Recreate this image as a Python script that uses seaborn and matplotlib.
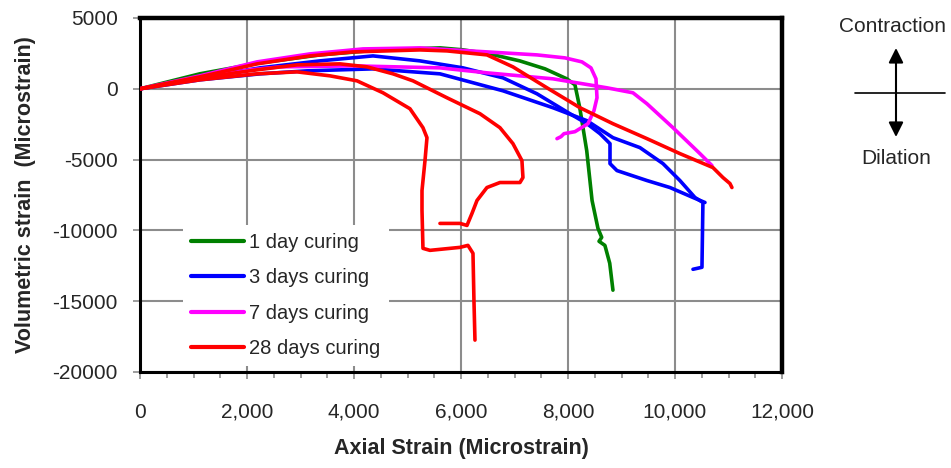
import matplotlib
matplotlib.use("Agg")
import matplotlib.pyplot as plt
from matplotlib.lines import Line2D
from matplotlib.ticker import MultipleLocator, FuncFormatter
import pandas as pd
import seaborn as sns

# ---- series -------------------------------------------------------------
series_labels = ["1 day curing", "3 days curing", "7 days curing", "28 days curing"]
series_colors = ["#008000", "#0000FF", "#FF00FF", "#FF0000"]

# 1 day curing
day1_axial = [0, 1120, 2240, 3360, 4490, 5610, 6040, 6540, 7100, 7570, 7980, 8130,
              8220, 8350, 8450, 8560, 8630, 8580, 8690, 8780, 8840]
day1_vol = [0, 1060, 1830, 2390, 2750, 2890, 2750, 2460, 1970, 1410, 700, 280,
            -1340, -4370, -7890, -9860, -10490, -10770, -11060, -12320, -14220]

# 3 days curing, specimen A
day3a_axial = [0, 1121, 2243, 3364, 4355, 5233, 6037, 6784, 7420, 8037, 8355, 8598,
               8785, 8785, 8915, 9476, 9906, 10336, 10560]
day3a_vol = [0, 775, 1479, 1972, 2324, 1972, 1479, 775, -352, -1761, -2465, -3169,
             -3873, -5282, -5775, -6479, -6972, -7676, -8028]
# 3 days curing, specimen B
day3b_axial = [0, 1121, 2243, 3121, 4355, 5607, 6784, 7719, 8355, 8840, 9345, 9775,
               10092, 10373, 10522, 10504, 10336]
day3b_vol = [0, 634, 1056, 1268, 1408, 1056, -141, -1338, -2254, -3451, -4155, -5282,
             -6479, -7676, -8028, -12605, -12746]

# 7 days curing, specimen A
day7a_axial = [0, 1121, 2187, 3177, 4168, 5233, 6485, 7420, 7943, 8261, 8429, 8523,
               8542, 8485, 8373, 8130, 7925, 7869, 7794]
day7a_vol = [0, 915, 1901, 2465, 2817, 2887, 2606, 2394, 2183, 1901, 1479, 704,
             -634, -1549, -2465, -3028, -3169, -3380, -3521]
# 7 days curing, specimen B
day7b_axial = [0, 1121, 2056, 2617, 3981, 5607, 6485, 7719, 8728, 9214, 9476, 9962,
               10466, 10691]
day7b_vol = [0, 775, 1338, 1549, 1620, 1479, 1127, 704, 70, -282, -1056, -2746,
             -4577, -5422]

# 28 days curing, specimen A
day28a_axial = [0, 1121, 2187, 2934, 3551, 4056, 4542, 5046, 5289, 5364, 5327, 5271,
                5271, 5289, 5420, 5981, 6130, 6224, 6242, 6261]
day28a_vol = [0, 634, 1056, 1197, 915, 563, -282, -1408, -2746, -3451, -5070, -7183,
              -8592, -11268, -11409, -11198, -11057, -11620, -14930, -17747]
# 28 days curing, specimen B
day28b_axial = [0, 1121, 2187, 2934, 3738, 4243, 4729, 5102, 5738, 6355, 6728, 6971,
                7139, 7158, 7102, 6728, 6485, 6299, 6205, 6112, 5981, 5607]
day28b_vol = [0, 775, 1338, 1690, 1761, 1549, 1056, 563, -634, -1761, -2746, -3873,
              -5070, -6267, -6619, -6619, -6972, -7887, -8803, -9648, -9507, -9507]
# 28 days curing, specimen C
day28c_axial = [0, 1121, 2187, 3177, 3981, 5233, 5738, 6485, 6971, 7607, 8224, 8840,
                9476, 10092, 10709, 10896, 11027, 11064]
day28c_vol = [0, 845, 1761, 2324, 2606, 2746, 2676, 2394, 1549, 70, -1338, -2465,
              -3521, -4577, -5563, -6267, -6690, -6972]

x_ticks = [0, 2000, 4000, 6000, 8000, 10000, 12000]
y_ticks = [-20000, -15000, -10000, -5000, 0, 5000]

specimens = [
    ("1 day curing", "1d", day1_axial, day1_vol),
    ("3 days curing", "3d-a", day3a_axial, day3a_vol),
    ("3 days curing", "3d-b", day3b_axial, day3b_vol),
    ("7 days curing", "7d-a", day7a_axial, day7a_vol),
    ("7 days curing", "7d-b", day7b_axial, day7b_vol),
    ("28 days curing", "28d-a", day28a_axial, day28a_vol),
    ("28 days curing", "28d-b", day28b_axial, day28b_vol),
    ("28 days curing", "28d-c", day28c_axial, day28c_vol),
]

frames = []
for curing, spec, xs, ys in specimens:
    frames.append(pd.DataFrame({"axial": xs, "volumetric": ys,
                                "curing": curing, "specimen": spec,
                                "step": range(len(xs))}))
df = pd.concat(frames, ignore_index=True)

# ---- figure -------------------------------------------------------------
sns.set_theme(style="white")
plt.rcParams["font.family"] = ["Liberation Sans", "DejaVu Sans"]
plt.rcParams["axes.unicode_minus"] = False

fig = plt.figure(figsize=(9.51, 4.68), dpi=100)
ax = fig.add_axes([140 / 951, 1 - 372 / 468, 642 / 951, 354 / 468])

sns.lineplot(data=df, x="axial", y="volumetric", hue="curing", units="specimen",
             estimator=None, sort=False, hue_order=series_labels,
             palette=dict(zip(series_labels, series_colors)),
             linewidth=2.6, ax=ax, zorder=3)

ax.set_xlim(0, 12000)
ax.set_ylim(-20000, 5000)
ax.set_xticks(x_ticks)
ax.set_yticks(y_ticks)
ax.xaxis.set_minor_locator(MultipleLocator(500))
ax.xaxis.set_major_formatter(FuncFormatter(lambda v, p: f"{v:,.0f}"))
ax.yaxis.set_major_formatter(FuncFormatter(lambda v, p: f"{v:.0f}"))

ax.grid(True, which="major", color="#8c8c8c", linewidth=1.5, zorder=0)
ax.set_axisbelow(True)

ax.tick_params(axis="x", which="major", direction="out", length=5, width=1.2,
               color="#8c8c8c", labelsize=15, pad=17)
ax.tick_params(axis="x", which="minor", direction="out", length=4, width=1.2,
               color="#8c8c8c")
ax.tick_params(axis="y", which="major", direction="out", length=5, width=1.2,
               color="#8c8c8c", labelsize=15, pad=11, left=True)
ax.tick_params(axis="x", bottom=True, which="both")

for side in ["top", "right"]:
    ax.spines[side].set_color("black")
    ax.spines[side].set_linewidth(3.2)
for side in ["left", "bottom"]:
    ax.spines[side].set_color("black")
    ax.spines[side].set_linewidth(2.2)

ax.set_xlabel("Axial Strain (Microstrain)", fontsize=15.5, fontweight="bold",
              labelpad=12)
ax.set_ylabel("Volumetric strain  (Microstrain)", fontsize=15.5, fontweight="bold",
              labelpad=12)

handles, labels = ax.get_legend_handles_labels()
leg = ax.legend(handles, labels, loc="center left",
                bbox_to_anchor=(183 / 951, 1 - 295.5 / 468),
                bbox_transform=fig.transFigure, borderaxespad=0,
                fontsize=14.5, handlelength=2.65, handletextpad=0.25,
                labelspacing=0.8, frameon=True, facecolor="white",
                edgecolor="none", framealpha=1, fancybox=False)
for line in leg.get_lines():
    line.set_linewidth(3.0)

# ---- contraction / dilation key ------------------------------------------
cx = 896 / 951
fig.text(892 / 951, 1 - 27 / 468, "Contraction", ha="center", va="center",
         fontsize=15)
fig.text(cx, 1 - 159 / 468, "Dilation", ha="center", va="center", fontsize=15)
ax.annotate("", xy=(cx, 1 - 48 / 468), xytext=(cx, 1 - 137 / 468),
            xycoords="figure fraction", textcoords="figure fraction",
            annotation_clip=False,
            arrowprops=dict(arrowstyle="<|-|>", color="black", lw=1.5,
                            mutation_scale=22, shrinkA=0, shrinkB=0))
fig.add_artist(Line2D([855 / 951, 945 / 951], [1 - 93 / 468, 1 - 93 / 468],
                      color="black", lw=1.2))

fig.savefig("out.png", dpi=100)
